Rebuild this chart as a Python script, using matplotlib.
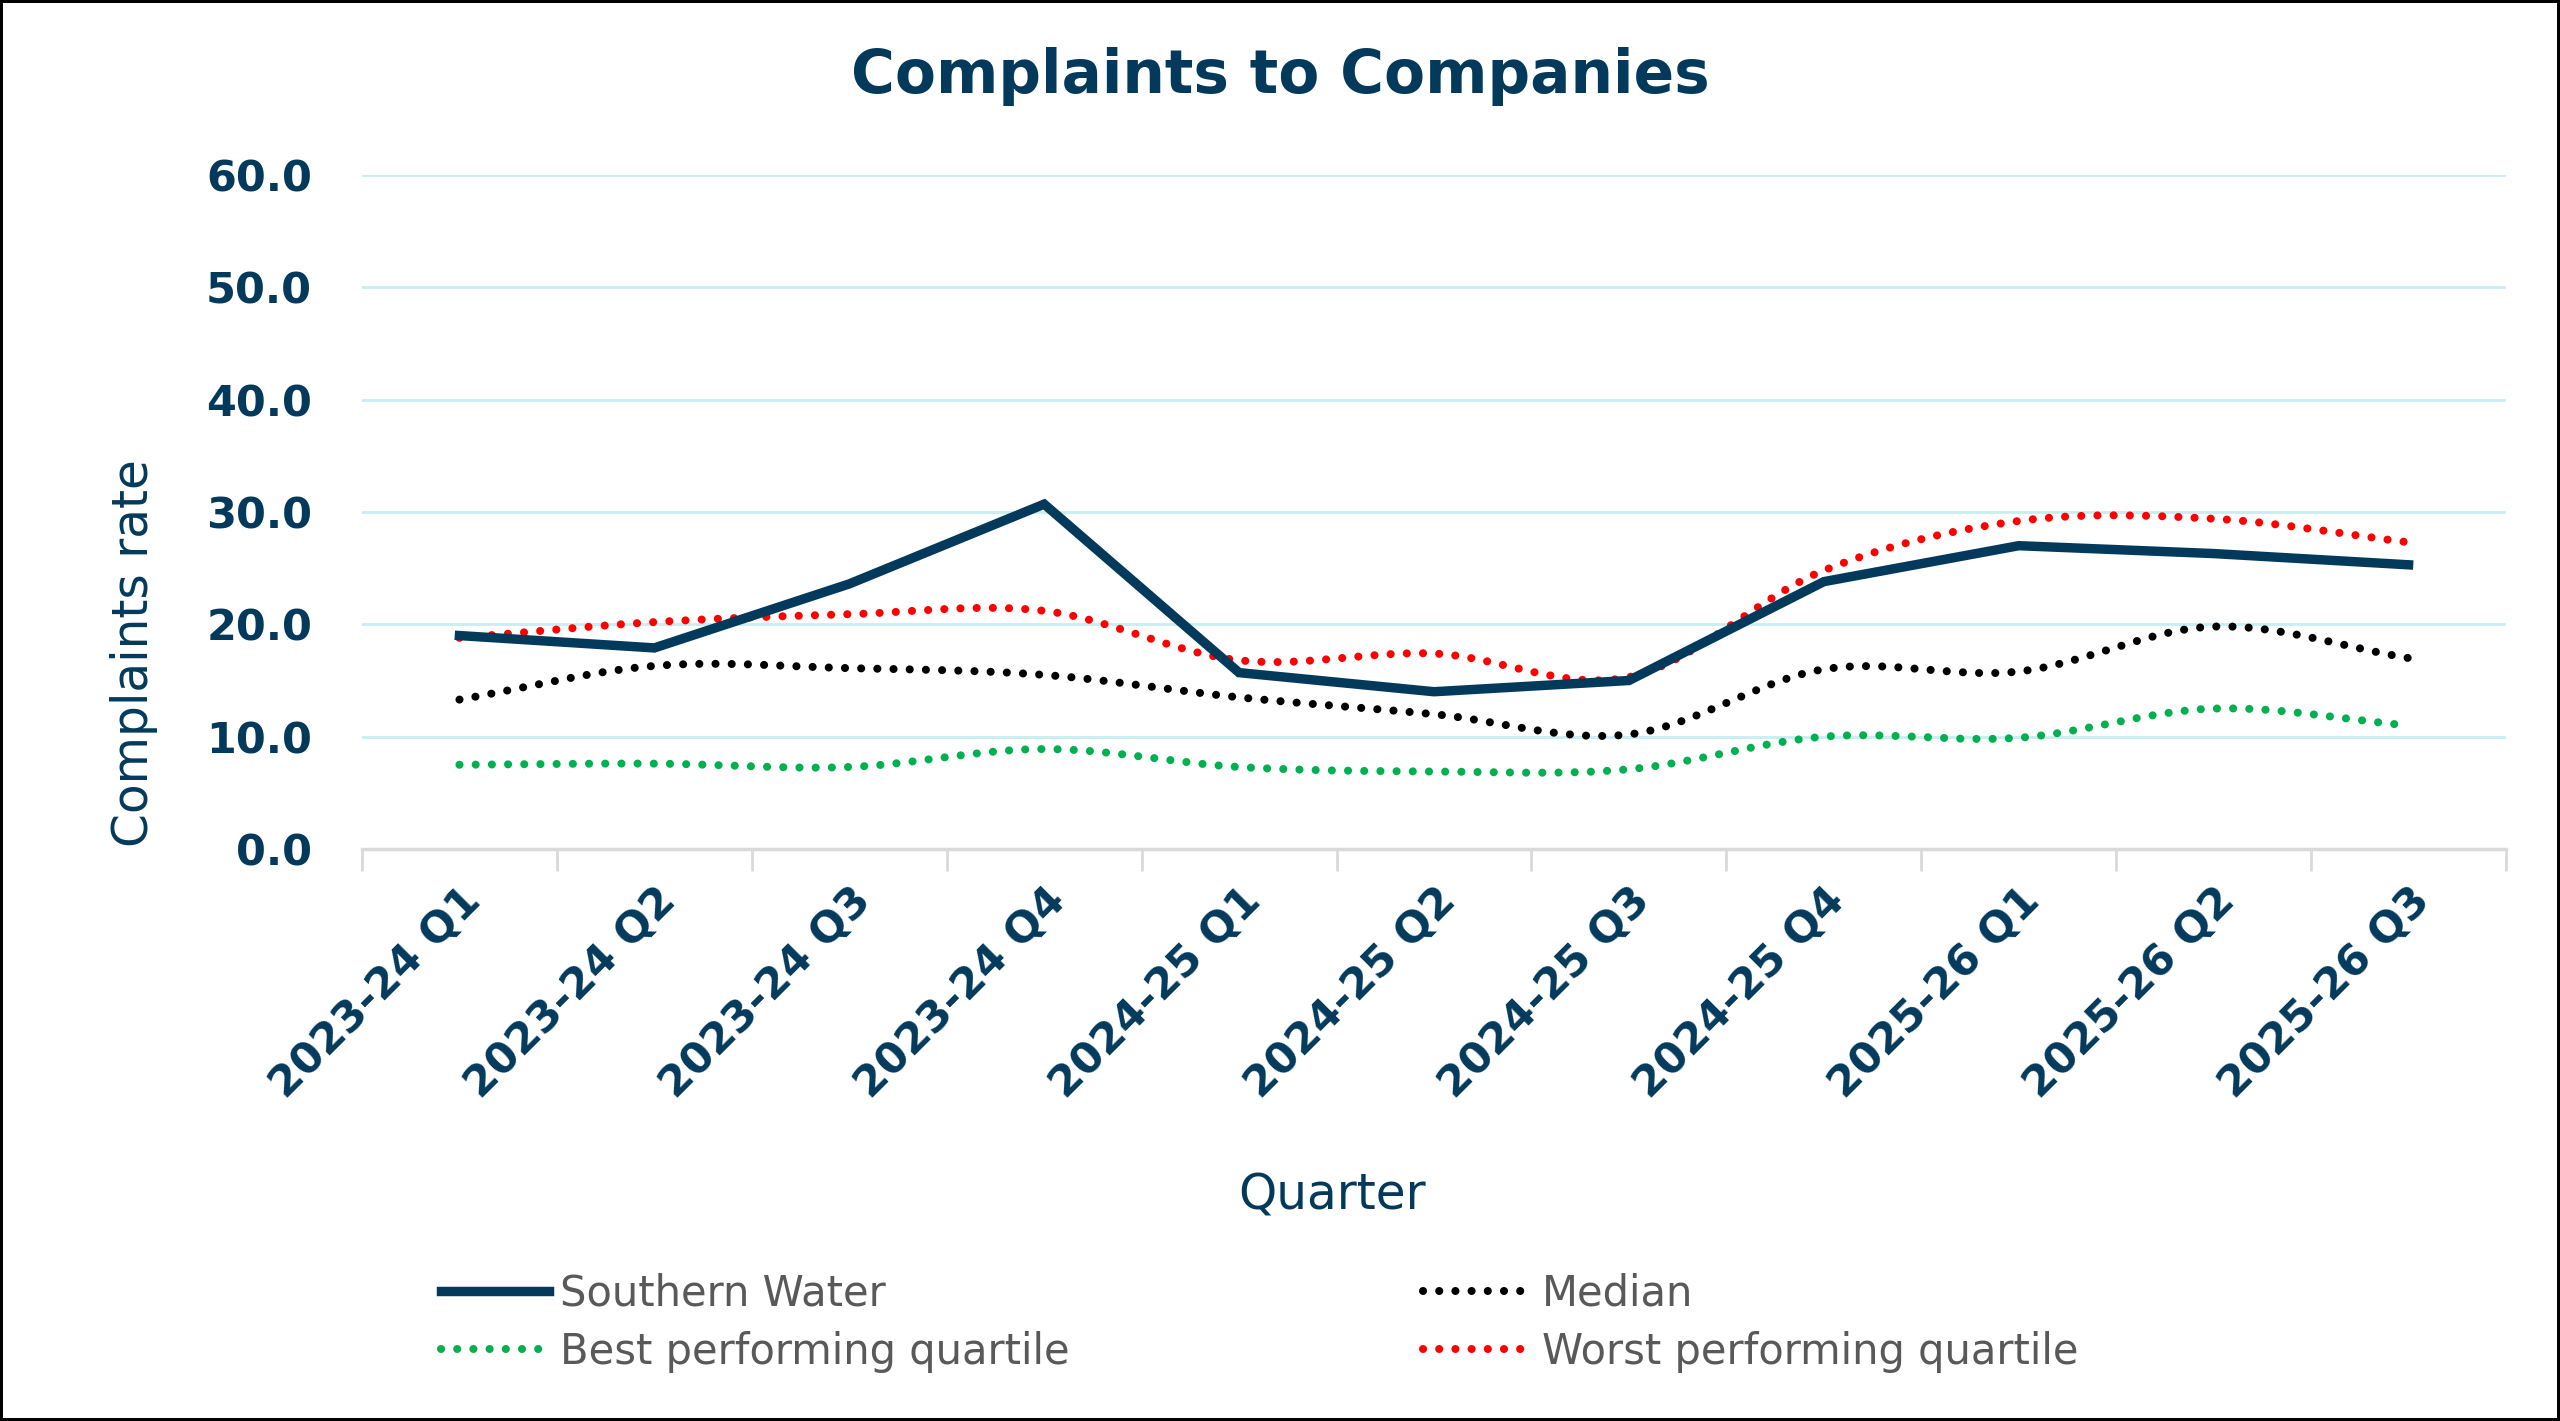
import numpy as np
import matplotlib
matplotlib.use("Agg")
import matplotlib.pyplot as plt
from matplotlib.lines import Line2D

plt.rcParams['font.family'] = ['DejaVu Sans']

quarters = ['2023-24 Q1', '2023-24 Q2', '2023-24 Q3', '2023-24 Q4',
            '2024-25 Q1', '2024-25 Q2', '2024-25 Q3', '2024-25 Q4',
            '2025-26 Q1', '2025-26 Q2', '2025-26 Q3']
southern_water = [19.0, 17.9, 23.6, 30.7, 15.7, 14.0, 15.0, 23.8, 27.0, 26.3, 25.3]
median = [13.3, 16.3, 16.1, 15.5, 13.5, 12.0, 10.2, 16.0, 15.8, 19.8, 17.0]
best_quartile = [7.5, 7.6, 7.3, 8.9, 7.3, 6.9, 7.1, 10.0, 9.9, 12.5, 11.0]
worst_quartile = [18.8, 20.2, 20.9, 21.2, 16.8, 17.4, 15.3, 24.8, 29.2, 29.4, 27.3]

NAVY = '#033a5c'
GRID = '#c8eef2'


def smooth(xs, ys, n=30):
    # catmull-rom curve through the points, like excel's smoothed line
    xs = np.asarray(xs, float)
    ys = np.asarray(ys, float)
    px = np.concatenate([[2 * xs[0] - xs[1]], xs, [2 * xs[-1] - xs[-2]]])
    py = np.concatenate([[2 * ys[0] - ys[1]], ys, [2 * ys[-1] - ys[-2]]])
    out_x, out_y = [], []
    t = np.linspace(0, 1, n, endpoint=False)
    for i in range(1, len(px) - 2):
        for p, out in ((px, out_x), (py, out_y)):
            p0, p1, p2, p3 = p[i - 1], p[i], p[i + 1], p[i + 2]
            seg = 0.5 * ((2 * p1) + (-p0 + p2) * t
                         + (2 * p0 - 5 * p1 + 4 * p2 - p3) * t ** 2
                         + (-p0 + 3 * p1 - 3 * p2 + p3) * t ** 3)
            out.extend(seg)
    out_x.append(xs[-1])
    out_y.append(ys[-1])
    return np.array(out_x), np.array(out_y)


fig = plt.figure(figsize=(25.6, 14.21), dpi=100)
fig.patch.set_edgecolor('black')
fig.patch.set_linewidth(4)
ax = fig.add_axes([362 / 2560, 1 - 849 / 1421, (2506 - 362) / 2560, (849 - 175) / 1421])

x = np.arange(len(quarters))
dot = (0, (0.01, 2.0))
DOT_LW = 5.8

for vals, col in ((median, 'black'), (best_quartile, '#00b050'), (worst_quartile, '#ff0000')):
    sx, sy = smooth(x, vals)
    ax.plot(sx, sy, color=col, lw=DOT_LW, linestyle=dot, dash_capstyle='round', zorder=3)
ax.plot(x, southern_water, color=NAVY, lw=6.8, solid_joinstyle='miter', zorder=4)

ax.set_xlim(-0.5, len(quarters) - 0.5)
ax.set_ylim(0, 60)
ax.set_yticks(np.arange(0, 61, 10))
ax.set_yticklabels([f'{v:.1f}' for v in np.arange(0, 61, 10)])
ax.yaxis.grid(True, color=GRID, lw=2)
ax.set_axisbelow(True)

ax.set_xticks(np.arange(-0.5, len(quarters), 1))
ax.set_xticklabels([])
ax.set_xticks(x, minor=True)
ax.set_xticklabels(quarters, minor=True, rotation=45, ha='right', va='top',
                   rotation_mode='anchor')
ax.tick_params(axis='x', which='major', length=16, width=2, color='#d9d9d9')
ax.tick_params(axis='x', which='minor', length=0, pad=22)
ax.tick_params(axis='y', length=0, pad=36)
for lab in ax.get_xticklabels(minor=True):
    lab.set_fontsize(31)
for lab in ax.get_yticklabels():
    lab.set_fontsize(31)
for lab in ax.get_xticklabels(minor=True) + ax.get_yticklabels():
    lab.set_fontweight('bold')
    lab.set_color(NAVY)

for s in ('top', 'right', 'left'):
    ax.spines[s].set_visible(False)
ax.spines['bottom'].set_color('#d9d9d9')
ax.spines['bottom'].set_linewidth(2.5)

fig.text(0.5, 1 - 76 / 1421, 'Complaints to Companies', ha='center', va='center',
         fontsize=43, fontweight='bold', color=NAVY)
fig.text(134 / 2560, 1 - 653 / 1421, 'Complaints rate', rotation=90, ha='center',
         va='center', fontsize=35, color=NAVY)
fig.text(1332 / 2560, 1 - 1196 / 1421, 'Quarter', ha='center', va='center',
         fontsize=35, color=NAVY)

handles = [
    Line2D([], [], color=NAVY, lw=6.8),
    Line2D([], [], color='#00b050', lw=DOT_LW, linestyle=dot, dash_capstyle='round'),
    Line2D([], [], color='black', lw=DOT_LW, linestyle=dot, dash_capstyle='round'),
    Line2D([], [], color='#ff0000', lw=DOT_LW, linestyle=dot, dash_capstyle='round'),
]
labels = ['Southern Water', 'Best performing quartile', 'Median', 'Worst performing quartile']
leg = fig.legend(handles, labels, ncol=2, loc='upper left',
                 bbox_to_anchor=(420 / 2560, 1 - 1252 / 1421), frameon=False,
                 fontsize=30, handlelength=2.6, handletextpad=0.25,
                 columnspacing=8.5, labelspacing=0.38, borderpad=0)
for t in leg.get_texts():
    t.set_color('#595959')

fig.savefig('out.png', dpi=100, edgecolor=fig.get_edgecolor())
